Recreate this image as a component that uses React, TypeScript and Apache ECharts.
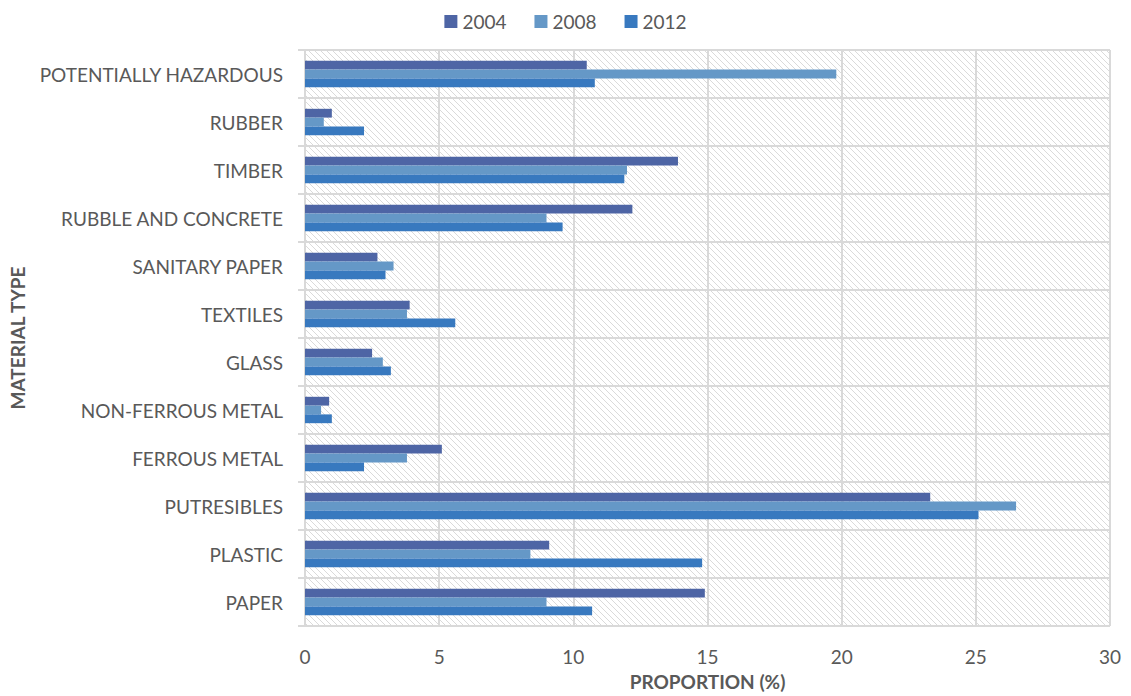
import React, { useEffect, useRef } from "react";
import * as echarts from "echarts";

const categories = [
  "POTENTIALLY HAZARDOUS",
  "RUBBER",
  "TIMBER",
  "RUBBLE AND CONCRETE",
  "SANITARY PAPER",
  "TEXTILES",
  "GLASS",
  "NON-FERROUS METAL",
  "FERROUS METAL",
  "PUTRESIBLES",
  "PLASTIC",
  "PAPER",
];

const values2004 = [10.5, 1.0, 13.9, 12.2, 2.7, 3.9, 2.5, 0.9, 5.1, 23.3, 9.1, 14.9];
const values2008 = [19.8, 0.7, 12.0, 9.0, 3.3, 3.8, 2.9, 0.6, 3.8, 26.5, 8.4, 9.0];
const values2012 = [10.8, 2.2, 11.9, 9.6, 3.0, 5.6, 3.2, 1.0, 2.2, 25.1, 14.8, 10.7];

const seriesNames = ["2004", "2008", "2012"];
const colors = ["#4E65A5", "#6598C7", "#3879BF"];

const hatchSvg =
  "data:image/svg+xml;utf8," +
  encodeURIComponent(
    '<svg xmlns="http://www.w3.org/2000/svg" width="6" height="6">' +
      '<rect width="6" height="6" fill="#ffffff"/>' +
      '<path d="M-1,-1 L7,7 M-1,5 L1,7 M5,-1 L7,1" stroke="#dadada" stroke-width="1"/>' +
      "</svg>"
  );

export default function App() {
  const ref = useRef<HTMLDivElement>(null);
  useEffect(() => {
    if (!ref.current) return;
    const chart = echarts.init(ref.current, undefined, { renderer: "svg" });
    const font = "Lato, sans-serif";
    const data = [values2004, values2008, values2012];
    chart.setOption({
      animation: false,
      textStyle: { fontFamily: font },
      color: colors,
      legend: {
        top: 7,
        left: "center",
        itemWidth: 13,
        itemHeight: 13,
        itemGap: 28,
        icon: "rect",
        textStyle: { fontSize: 19, color: "#595959", fontFamily: font },
        data: seriesNames,
      },
      grid: {
        left: 305,
        right: 21,
        top: 50,
        bottom: 70,
        outerBoundsMode: "none",
        containLabel: false,
        show: true,
        backgroundColor: { image: hatchSvg, repeat: "repeat" } as any,
        borderColor: "#d9d9d9",
        borderWidth: 1,
      },
      xAxis: {
        type: "value",
        min: 0,
        max: 30,
        interval: 5,
        name: "PROPORTION (%)",
        nameLocation: "middle",
        nameGap: 46,
        nameTextStyle: { fontSize: 19, fontWeight: "bold", color: "#595959", fontFamily: font },
        axisLine: { show: false },
        axisTick: { show: false },
        axisLabel: { fontSize: 19, color: "#595959", margin: 21, fontFamily: font },
        splitLine: { show: true, lineStyle: { color: "#d9d9d9", width: 2 } },
      },
      yAxis: {
        type: "category",
        data: categories,
        inverse: true,
        name: "MATERIAL TYPE",
        nameLocation: "middle",
        nameGap: 278,
        nameRotate: 90,
        nameTextStyle: { fontSize: 19, fontWeight: "bold", color: "#595959", fontFamily: font },
        axisLine: { show: true, lineStyle: { color: "#d9d9d9", width: 2 } },
        axisTick: { show: true, length: 7, lineStyle: { color: "#d9d9d9", width: 2 } },
        axisLabel: { fontSize: 19, color: "#595959", margin: 22, fontFamily: font },
        splitLine: { show: true, lineStyle: { color: "#d9d9d9", width: 2 } },
      },
      series: seriesNames.map((name, i) => ({
        name,
        type: "bar",
        data: data[i],
        barGap: "0%",
        barCategoryGap: "45%",
        itemStyle: { color: colors[i] },
      })),
    });
    return () => chart.dispose();
  }, []);
  return (
    <div
      ref={ref}
      style={{ position: "fixed", left: 0, top: 0, width: 1131, height: 696, background: "#fff" }}
    />
  );
}
